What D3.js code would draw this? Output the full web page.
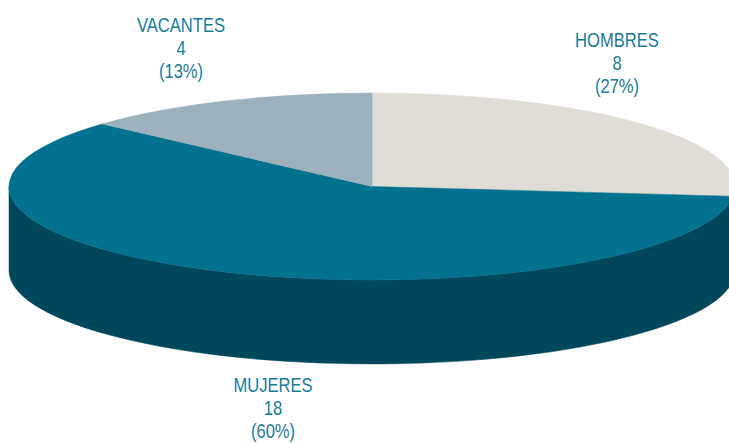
<!DOCTYPE html>
<html>
<head>
<meta charset="utf-8">
<script src="https://cdn.jsdelivr.net/npm/d3@7"></script>
<style>
  html, body { margin: 0; padding: 0; background: #fff; }
  svg { display: block; }
  .lbl { font-family: "Liberation Sans Narrow", "Liberation Sans", Arial, sans-serif; font-size: 20px; fill: #187c99; }
</style>
</head>
<body>
<div id="chart"></div>
<script>
// data, clockwise from 12 o'clock
var categories = ["HOMBRES", "MUJERES", "VACANTES"];
var counts = [8, 18, 4];
var percentLabels = ["(27%)", "(60%)", "(13%)"];

// colours
var topColors = ["#e0dcd6", "#00718f", "#9db1bc"];
var sideColors = ["#b9b4ad", "#00465c", "#7a8f99"];

// layout
var width = 729, height = 443;
var cx = 372, cy = 186.5, rx = 363, ry = 93.5, depth = 84;
// where each label block sits (centre x, first baseline)
var labelAnchor = [[617, 47], [273, 392], [181, 32]];
var lineGap = 23;

var svg = d3.select("#chart").append("svg")
    .attr("width", width)
    .attr("height", height);

var pie = d3.pie().sort(null).startAngle(0).endAngle(2 * Math.PI);
var arcs = pie(counts);

// point on the tilted rim, angle measured clockwise from the top
function px(a) { return cx + rx * Math.sin(a); }
function py(a, dz) { return cy - ry * Math.cos(a) + (dz || 0); }

function topPath(d) {
    var large = (d.endAngle - d.startAngle) > Math.PI ? 1 : 0;
    return "M" + cx + "," + cy +
        "L" + px(d.startAngle) + "," + py(d.startAngle) +
        "A" + rx + "," + ry + " 0 " + large + " 1 " + px(d.endAngle) + "," + py(d.endAngle) + "Z";
}

function sidePath(d) {
    var s = Math.max(d.startAngle, Math.PI / 2),
        e = Math.min(d.endAngle, 3 * Math.PI / 2);
    if (e <= s) return null;
    return "M" + px(s) + "," + py(s) +
        "A" + rx + "," + ry + " 0 0 1 " + px(e) + "," + py(e) +
        "L" + px(e) + "," + py(e, depth) +
        "A" + rx + "," + ry + " 0 0 0 " + px(s) + "," + py(s, depth) + "Z";
}

// outer wall first, then the top face
svg.append("g").selectAll("path")
    .data(arcs.filter(function(d) { return sidePath(d) !== null; }))
    .enter().append("path")
    .attr("d", sidePath)
    .attr("fill", function(d) { return sideColors[d.index]; })
    .attr("stroke", function(d) { return sideColors[d.index]; })
    .attr("stroke-width", 0.5);

svg.append("g").selectAll("path")
    .data(arcs)
    .enter().append("path")
    .attr("d", topPath)
    .attr("fill", function(d) { return topColors[d.index]; })
    .attr("stroke", function(d) { return topColors[d.index]; })
    .attr("stroke-width", 0.5);

// labels
var lbl = svg.append("g").selectAll("g")
    .data(arcs)
    .enter().append("g")
    .attr("transform", function(d) {
        var p = labelAnchor[d.index];
        return "translate(" + p[0] + "," + p[1] + ") scale(0.83,1)";
    });

lbl.selectAll("text")
    .data(function(d) { return [categories[d.index], String(d.data), percentLabels[d.index]]; })
    .enter().append("text")
    .attr("class", "lbl")
    .attr("text-anchor", "middle")
    .attr("y", function(t, i) { return i * lineGap; })
    .text(function(t) { return t; });
</script>
</body>
</html>
